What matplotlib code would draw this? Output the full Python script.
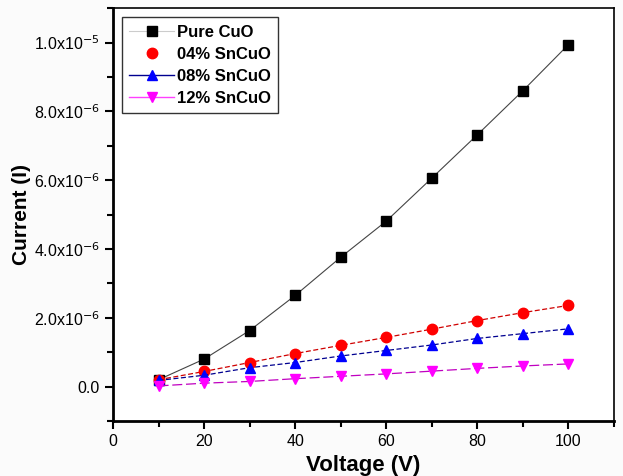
import matplotlib
matplotlib.use("Agg")
import matplotlib.pyplot as plt
from matplotlib.lines import Line2D
from matplotlib.ticker import MultipleLocator, FuncFormatter

plt.rcParams['font.family'] = ['Liberation Sans', 'DejaVu Sans']

voltage = [10, 20, 30, 40, 50, 60, 70, 80, 90, 100]
pure_cuo = [0.20, 0.80, 1.63, 2.65, 3.76, 4.81, 6.06, 7.32, 8.60, 9.94]
sn04 = [0.20, 0.44, 0.70, 0.96, 1.20, 1.43, 1.67, 1.92, 2.15, 2.36]
sn08 = [0.18, 0.33, 0.55, 0.70, 0.89, 1.05, 1.21, 1.40, 1.54, 1.68]
sn12 = [0.02, 0.10, 0.15, 0.23, 0.30, 0.37, 0.45, 0.53, 0.60, 0.66]
labels = ["Pure CuO", "04% SnCuO", "08% SnCuO", "12% SnCuO"]
scale = 1e-6

fig = plt.figure(figsize=(6.23, 4.76), dpi=100)
fig.patch.set_facecolor('#fbfbfb')
ax = fig.add_axes([0.1814, 0.1155, 0.8042, 0.8675])
ax.set_facecolor('white')

ax.plot(voltage, [v * scale for v in pure_cuo], color='#444444', lw=0.8, ls='-',
        marker='s', ms=6.5, mfc='black', mec='black')
ax.plot(voltage, [v * scale for v in sn04], color='#d00000', lw=0.9, ls=(0, (4, 2)),
        marker='o', ms=7.5, mfc='red', mec='red')
ax.plot(voltage, [v * scale for v in sn08], color='#000090', lw=0.9, ls=(0, (4, 2)),
        marker='^', ms=7.5, mfc='blue', mec='blue')
ax.plot(voltage, [v * scale for v in sn12], color='#c000c0', lw=0.9, ls=(0, (8, 3)),
        marker='v', ms=7.5, mfc='magenta', mec='magenta')

handles = [
    Line2D([], [], color='#cccccc', lw=0.8, marker='s', ms=6.5, mfc='black', mec='black'),
    Line2D([], [], color='none', lw=0, marker='o', ms=7.5, mfc='red', mec='red'),
    Line2D([], [], color='#000090', lw=1, marker='^', ms=7.5, mfc='blue', mec='blue'),
    Line2D([], [], color='#ff40ff', lw=1, marker='v', ms=7.5, mfc='magenta', mec='magenta'),
]
leg = ax.legend(handles, labels, loc='upper left', bbox_to_anchor=(0.017, 0.978),
                frameon=True, fancybox=False, edgecolor='black', handlelength=2.7,
                handletextpad=0.15, borderpad=0.45, labelspacing=0.42,
                borderaxespad=0.0,
                prop={'weight': 'bold', 'size': 12})
leg.get_frame().set_linewidth(1.0)

ax.set_xlim(0, 110)
ax.set_ylim(-1e-6, 1.1e-5)
ax.xaxis.set_major_locator(MultipleLocator(20))
ax.xaxis.set_minor_locator(MultipleLocator(10))
ax.yaxis.set_major_locator(MultipleLocator(2e-6))
ax.yaxis.set_minor_locator(MultipleLocator(1e-6))

def yfmt(v, pos):
    if abs(v) < 1e-12:
        return "0.0"
    exp = 0
    m = v
    while abs(m) < 1:
        m *= 10
        exp -= 1
    return r"%.1fx10$^{%d}$" % (m, exp)

ax.yaxis.set_major_formatter(FuncFormatter(yfmt))

for side in ['left', 'bottom']:
    ax.spines[side].set_linewidth(2.0)
for side in ['top', 'right']:
    ax.spines[side].set_linewidth(1.2)
ax.tick_params(which='major', direction='out', length=6, width=1.5, labelsize=11.5)
ax.tick_params(which='minor', direction='out', length=4, width=1.5)

ax.set_xlabel("Voltage (V)", fontsize=16, fontweight='bold', labelpad=4)
ax.set_ylabel("Current (I)", fontsize=15, fontweight='bold', labelpad=2)

fig.savefig("out.png", dpi=100, facecolor=fig.get_facecolor())
